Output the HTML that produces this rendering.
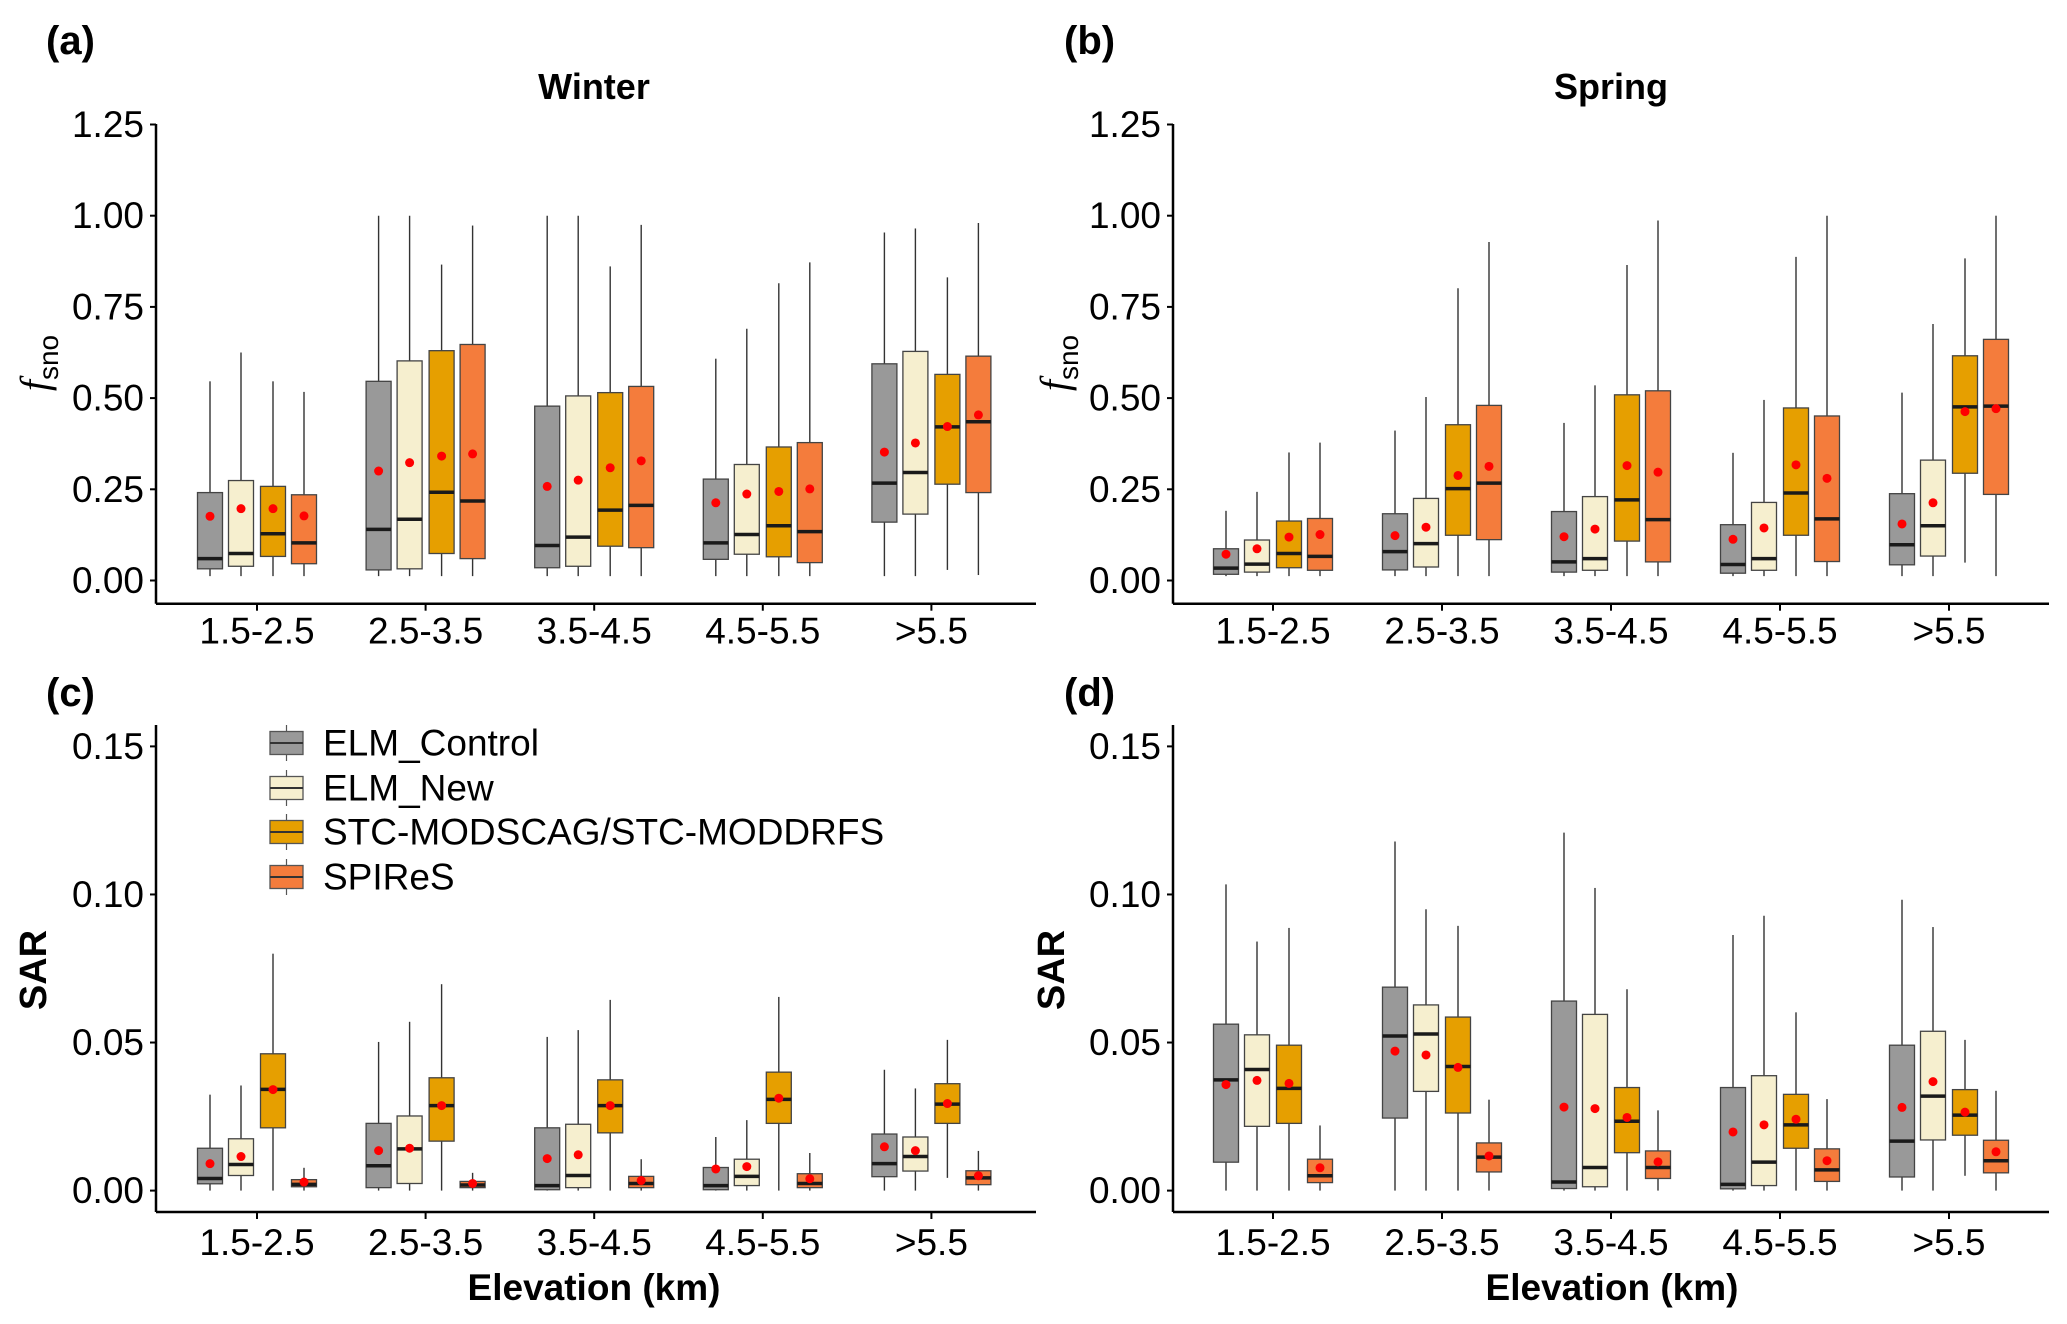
<!DOCTYPE html>
<html><head><meta charset="utf-8"><style>
html,body{margin:0;padding:0;background:#fff}
svg{display:block;font-family:"Liberation Sans",Arial,sans-serif}
</style></head><body>
<svg id="chart" width="2067" height="1324" viewBox="0 0 2067 1324" xmlns="http://www.w3.org/2000/svg">
<rect width="2067" height="1324" fill="#fff"/>
<text x="46" y="54" font-size="40" font-weight="bold">(a)</text>
<text x="1064" y="54" font-size="40" font-weight="bold">(b)</text>
<text x="46" y="706" font-size="40" font-weight="bold">(c)</text>
<text x="1064" y="706" font-size="40" font-weight="bold">(d)</text>
<text x="594" y="99" font-size="36" font-weight="bold" text-anchor="middle">Winter</text>
<text x="1611" y="99" font-size="36" font-weight="bold" text-anchor="middle">Spring</text>
<text transform="translate(48,363) rotate(-90)" font-size="36" text-anchor="middle"><tspan font-style="italic" font-family="Liberation Serif, serif" font-size="40">f</tspan><tspan dy="10" font-size="28">sno</tspan></text>
<text transform="translate(1068,363) rotate(-90)" font-size="36" text-anchor="middle"><tspan font-style="italic" font-family="Liberation Serif, serif" font-size="40">f</tspan><tspan dy="10" font-size="28">sno</tspan></text>
<text transform="translate(46,970) rotate(-90)" font-size="38" font-weight="bold" text-anchor="middle">SAR</text>
<text transform="translate(1064,970) rotate(-90)" font-size="38" font-weight="bold" text-anchor="middle">SAR</text>
<text x="594" y="1300" font-size="37" font-weight="bold" text-anchor="middle">Elevation (km)</text>
<text x="1612" y="1300" font-size="37" font-weight="bold" text-anchor="middle">Elevation (km)</text>
<g id="legend"></g>
</svg>
<script>
const categories = ["1.5-2.5","2.5-3.5","3.5-4.5","4.5-5.5",">5.5"];
const seriesNames = ["ELM_Control","ELM_New","STC-MODSCAG/STC-MODDRFS","SPIReS"];
const seriesColors = ["#999999","#f6efcf","#e69f00","#f47c3c"];
const fsnoTicks = [0,0.25,0.5,0.75,1.0,1.25];
const fsnoTickLabels = ["0.00","0.25","0.50","0.75","1.00","1.25"];
const sarTicks = [0,0.05,0.1,0.15];
const sarTickLabels = ["0.00","0.05","0.10","0.15"];

const A_high=[[.546,.625,.546,.517],[1.0,1.0,.866,.973],[1.0,1.0,.861,.975],[.608,.69,.815,.872],[.954,.965,.831,.98]];
const A_q3=[[.241,.274,.258,.235],[.546,.602,.63,.647],[.478,.506,.515,.532],[.278,.318,.366,.378],[.594,.628,.565,.615]];
const A_med=[[.06,.074,.128,.103],[.14,.168,.242,.218],[.096,.119,.193,.206],[.103,.126,.15,.134],[.267,.296,.421,.435]];
const A_q1=[[.032,.039,.066,.046],[.029,.032,.074,.06],[.035,.039,.094,.09],[.058,.072,.065,.049],[.16,.182,.264,.241]];
const A_low=[[.012,.012,.012,.012],[.012,.012,.012,.012],[.012,.012,.012,.012],[.012,.012,.012,.012],[.012,.012,.029,.015]];
const A_mean=[[.176,.197,.197,.177],[.3,.323,.341,.347],[.258,.275,.309,.328],[.213,.237,.244,.251],[.352,.377,.422,.454]];

const B_high=[[.191,.243,.351,.378],[.411,.503,.801,.928],[.432,.535,.865,.987],[.35,.495,.887,1.0],[.515,.703,.883,1.0]];
const B_q3=[[.087,.111,.163,.17],[.183,.225,.427,.48],[.189,.23,.509,.52],[.153,.214,.473,.451],[.238,.33,.616,.661]];
const B_med=[[.034,.045,.074,.066],[.079,.101,.252,.267],[.051,.06,.221,.167],[.044,.06,.24,.169],[.098,.15,.476,.478]];
const B_q1=[[.017,.023,.035,.028],[.029,.037,.124,.112],[.023,.028,.108,.051],[.02,.028,.124,.052],[.043,.067,.294,.236]];
const B_low=[[.012,.012,.012,.012],[.012,.012,.012,.012],[.012,.012,.012,.012],[.012,.012,.012,.012],[.012,.012,.049,.012]];
const B_mean=[[.072,.087,.119,.126],[.123,.146,.288,.313],[.12,.141,.315,.297],[.113,.144,.317,.28],[.155,.213,.463,.471]];

const C_high=[[.0324,.0355,.080,.0077],[.0502,.057,.0697,.006],[.0519,.0542,.0644,.0106],[.0181,.0238,.0654,.0127],[.0408,.0345,.0509,.0134]];
const C_q3=[[.0143,.0175,.0462,.0037],[.0227,.0252,.0381,.0031],[.0212,.0224,.0374,.0048],[.0078,.0106,.040,.0057],[.0191,.0181,.0361,.0067]];
const C_med=[[.0041,.0088,.0342,.0021],[.0084,.0141,.0287,.0019],[.0017,.0051,.0287,.0024],[.0017,.0048,.0308,.0024],[.0091,.0115,.0292,.0043]];
const C_q1=[[.0023,.0051,.0212,.0013],[.001,.0024,.0167,.001],[.0003,.001,.0195,.001],[.0003,.0017,.0227,.001],[.0047,.0066,.0227,.002]];
const C_low=[[0,0,0,0],[0,0,0,0],[0,0,0,0],[0,0,0,0],[0,0,.0043,0]];
const C_mean=[[.0091,.0115,.0341,.0029],[.0135,.0143,.0287,.0024],[.0108,.0121,.0287,.0034],[.0073,.0081,.0312,.004],[.0148,.0135,.0294,.005]];

const D_high=[[.1034,.0841,.0887,.022],[.1179,.095,.0894,.0307],[.1209,.1022,.068,.0271],[.0863,.0928,.0602,.0309],[.0982,.089,.0509,.0337]];
const D_q3=[[.0562,.0526,.0491,.0106],[.0687,.0627,.0586,.0161],[.064,.0595,.0348,.0134],[.0348,.0388,.0325,.0141],[.0491,.0538,.0341,.017]];
const D_med=[[.0374,.0409,.0345,.005],[.0522,.0529,.0419,.0113],[.0029,.0078,.0234,.0078],[.0021,.0096,.0222,.007],[.0167,.0319,.0255,.0101]];
const D_q1=[[.0096,.0217,.0227,.0027],[.0245,.0335,.0262,.0063],[.0007,.0013,.0128,.0041],[.0006,.0017,.0143,.0031],[.0046,.0171,.0187,.006]];
const D_low=[[0,0,0,0],[0,0,0,0],[0,0,0,0],[0,0,0,0],[0,0,.005,0]];
const D_mean=[[.0358,.0372,.0362,.0077],[.0471,.0458,.0416,.0117],[.0282,.0277,.0247,.0097],[.0198,.0222,.0241,.0101],[.0281,.0368,.0265,.0131]];

const NS="http://www.w3.org/2000/svg";
const svg=document.getElementById('chart');
function mk(tag,attrs,parent){const e=document.createElementNS(NS,tag);for(const k in attrs)e.setAttribute(k,attrs[k]);(parent||svg).appendChild(e);return e;}

function panel(id,ax,axEnd,y0,pxPerUnit,xAxisY,cat0,catStep,labelY,top,ticks,tickLabels,high,q3,med,q1,low,mean){
  const g=mk('g',{});
  
  
  const yS=v=>y0-v*pxPerUnit;
  const xS=i=>cat0+i*catStep;
  const offs=[-47,-16,16,47], bw=25;
  const yl=mk('line',{x1:ax,x2:ax,y1:top,y2:xAxisY,stroke:'#000','stroke-width':2.5},g);
  
  
  const xl=mk('line',{x1:ax,x2:axEnd,y1:xAxisY,y2:xAxisY,stroke:'#000','stroke-width':2.5},g);
  
  
  ticks.forEach((t,i)=>{
    mk('line',{x1:ax-6,x2:ax,y1:yS(t),y2:yS(t),stroke:'#000','stroke-width':2},g);
    const tx=mk('text',{x:ax-12,y:yS(t),'font-size':37,'text-anchor':'end','dominant-baseline':'central',fill:'#000'},g);
    
    
    tx.textContent=tickLabels[i];
  });
  categories.forEach((c,i)=>{
    mk('line',{x1:xS(i),x2:xS(i),y1:xAxisY,y2:xAxisY+7,stroke:'#000','stroke-width':2},g);
    const tx=mk('text',{x:xS(i),y:labelY,'font-size':37,'text-anchor':'middle','dominant-baseline':'central',fill:'#000'},g);
    
    
    tx.textContent=c;
    for(let s=0;s<4;s++){
      const cx=xS(i)+offs[s];
      const bg=mk('g',{},g);
      
      
      mk('line',{x1:cx,x2:cx,y1:yS(high[i][s]),y2:yS(q3[i][s]),stroke:'#333','stroke-width':1.4},bg);
      mk('line',{x1:cx,x2:cx,y1:yS(q1[i][s]),y2:yS(low[i][s]),stroke:'#333','stroke-width':1.4},bg);
      mk('rect',{x:cx-bw/2,y:yS(q3[i][s]),width:bw,height:Math.max(1,yS(q1[i][s])-yS(q3[i][s])),fill:seriesColors[s],stroke:'#444','stroke-width':1.3},bg);
      mk('line',{x1:cx-bw/2,x2:cx+bw/2,y1:yS(med[i][s]),y2:yS(med[i][s]),stroke:'#1a1a1a','stroke-width':3.5},bg);
      mk('circle',{cx:cx,cy:yS(mean[i][s]),r:4.5,fill:'#ff0000'},bg);
    }
  });
}
panel('a',156,1036,580.5,364.8,603.7,257,168.6,631,124,fsnoTicks,fsnoTickLabels,A_high,A_q3,A_med,A_q1,A_low,A_mean);
panel('b',1173,2049,580.5,364.8,603.7,1273,169,631,124,fsnoTicks,fsnoTickLabels,B_high,B_q3,B_med,B_q1,B_low,B_mean);
panel('c',156,1036,1190.6,2961.4,1212,257,168.6,1242.5,725,sarTicks,sarTickLabels,C_high,C_q3,C_med,C_q1,C_low,C_mean);
panel('d',1173,2049,1190.6,2961.4,1212,1273,169,1242.5,725,sarTicks,sarTickLabels,D_high,D_q3,D_med,D_q1,D_low,D_mean);

const lg=document.getElementById('legend');
const legendY=[743,788,832,877];
seriesNames.forEach((n,i)=>{
  const e=mk('g',{},lg);
  
  
  const y=legendY[i];
  mk('line',{x1:286.5,x2:286.5,y1:y-18,y2:y+18,stroke:'#555','stroke-width':1.2},e);
  mk('rect',{x:270,y:y-11.5,width:33,height:23,fill:seriesColors[i],stroke:'#555','stroke-width':1.3},e);
  mk('line',{x1:270,x2:303,y1:y,y2:y,stroke:'#333','stroke-width':2},e);
  const t=mk('text',{x:323,y:y,'font-size':37,'dominant-baseline':'central',fill:'#000'},e);
  t.textContent=n;
});
</script>
</body></html>
